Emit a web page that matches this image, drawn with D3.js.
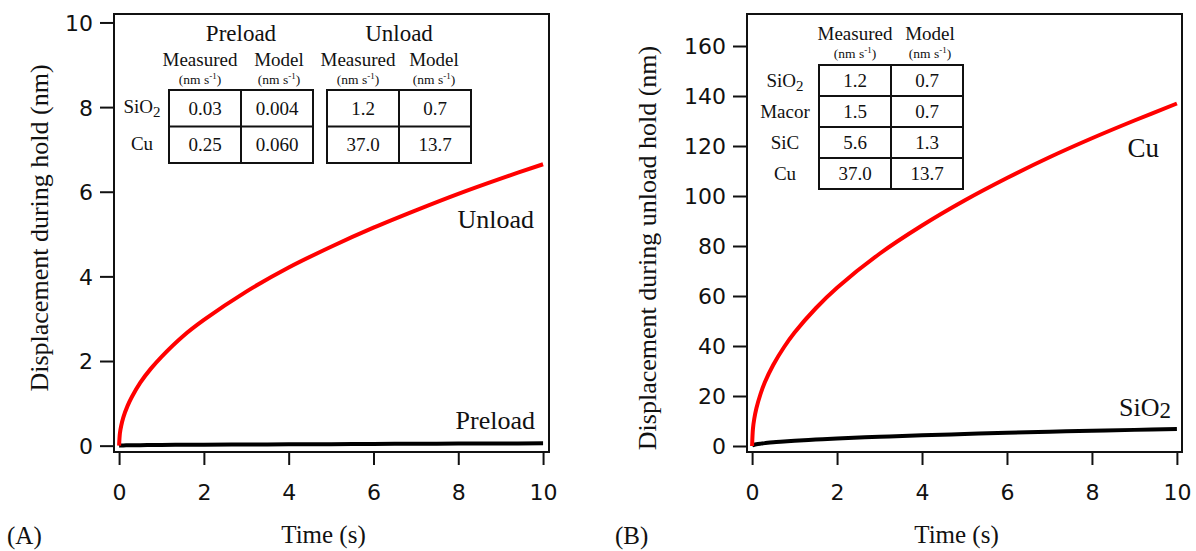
<!DOCTYPE html>
<html>
<head>
<meta charset="utf-8">
<script src="https://cdn.jsdelivr.net/npm/d3@7"></script>
<style>
  html, body { margin: 0; padding: 0; background: #fff; }
</style>
</head>
<body>
<svg id="chart" width="1196" height="551"></svg>
<script>
var SERIF = "'Liberation Serif', 'Times New Roman', Times, serif";
var SANS = "'DejaVu Sans', sans-serif";

// hold time (s)
var timeS    = [0, 0.02, 0.05, 0.1, 0.2, 0.3, 0.5, 0.75, 1, 1.5, 2, 3, 4, 5, 6, 7, 8, 9, 10];
// (A) displacement (nm)
var preloadNm = [0, 0.002, 0.004, 0.006, 0.008, 0.01, 0.012, 0.014, 0.016, 0.02, 0.022, 0.027, 0.032, 0.036, 0.04, 0.044, 0.048, 0.052, 0.056];
var unloadNm  = [0, 0.3, 0.47, 0.67, 0.94, 1.15, 1.49, 1.82, 2.1, 2.58, 2.97, 3.64, 4.21, 4.7, 5.15, 5.56, 5.95, 6.31, 6.65];
// (B) displacement during unload hold (nm)
var sio2Nm = [0, 0.3, 0.5, 0.7, 0.95, 1.15, 1.5, 1.8, 2.1, 2.6, 3.0, 3.7, 4.3, 4.8, 5.3, 5.7, 6.1, 6.45, 6.8];
var cuNm   = [0, 6.9, 10.8, 15, 20.9, 25.5, 32.5, 39.5, 45.4, 55.1, 63.3, 76.9, 88.2, 98.2, 107.2, 115.5, 123.1, 130.2, 137];

var xTicks  = [0, 2, 4, 6, 8, 10];
var yTicksA = [0, 2, 4, 6, 8, 10];
var yTicksB = [0, 20, 40, 60, 80, 100, 120, 140, 160];

// tables (nm s-1)
var tableARows = ["SiO2", "Cu"];
var preloadMeasured = ["0.03", "0.25"];
var preloadModel    = ["0.004", "0.060"];
var unloadMeasured  = ["1.2", "37.0"];
var unloadModel     = ["0.7", "13.7"];

var tableBRows = ["SiO2", "Macor", "SiC", "Cu"];
var tableBMeasured = ["1.2", "1.5", "5.6", "37.0"];
var tableBModel    = ["0.7", "0.7", "1.3", "13.7"];

var svg = d3.select("#chart");

function stext(parent, x, y, size, anchor) {
  return parent.append("text")
    .attr("x", x).attr("y", y)
    .attr("font-family", SERIF)
    .attr("font-size", size)
    .attr("fill", "#111")
    .attr("text-anchor", anchor || "start");
}

// SiO2 -> subscript 2
function chem(sel, name, subSize) {
  if (name === "SiO2") {
    sel.append("tspan").text("SiO");
    sel.append("tspan").attr("font-size", subSize).attr("dy", 4).text("2");
  } else {
    sel.text(name);
  }
}

function panel(o) {
  var g = svg.append("g");
  var x = d3.scaleLinear().domain(o.xDom).range([o.left, o.right]);
  var y = d3.scaleLinear().domain(o.yDom).range([o.bottom, o.top]);

  var xAxis = d3.axisBottom(x).tickValues(xTicks).tickSize(13).tickPadding(19).tickSizeOuter(0);
  var yAxis = d3.axisLeft(y).tickValues(o.yTicks).tickSize(14).tickPadding(7).tickSizeOuter(0);

  var gx = g.append("g").attr("transform", "translate(0," + o.bottom + ")").call(xAxis);
  var gy = g.append("g").attr("transform", "translate(" + o.left + ",0)").call(yAxis);
  [gx, gy].forEach(function(a) {
    a.select(".domain").remove();
    a.selectAll(".tick line").attr("stroke", "#111").attr("stroke-width", 2);
    a.selectAll(".tick text").attr("font-family", SANS).attr("font-size", 22).attr("fill", "#111");
  });
  gy.selectAll(".tick text").attr("dy", "0.36em");

  // lines
  var line = d3.line()
      .x(function(d) { return x(d[0]); })
      .y(function(d) { return y(d[1]); })
      .curve(d3.curveCatmullRom.alpha(0.5));

  o.series.forEach(function(s) {
    g.append("path")
      .datum(timeS.map(function(t, i) { return [t, s.values[i]]; }))
      .attr("fill", "none")
      .attr("stroke", s.color)
      .attr("stroke-width", 4)
      .attr("stroke-linejoin", "round")
      .attr("d", line);
  });

  // frame
  g.append("rect")
    .attr("x", o.left).attr("y", o.top)
    .attr("width", o.right - o.left).attr("height", o.bottom - o.top)
    .attr("fill", "none").attr("stroke", "#111").attr("stroke-width", 2);

  stext(g, (o.left + o.right) / 2 - 8, 543, 25, "middle").text("Time (s)");

  stext(g, 0, 0, 26, "middle")
    .attr("transform", "translate(" + o.yTitleX + "," + o.yTitleY + ") rotate(-90)")
    .text(o.yTitle);

  stext(g, o.tagX, 544, 25).text(o.tag);

  return { g: g, x: x, y: y };
}

// (A)
var pA = panel({
  left: 114, right: 549, top: 14, bottom: 452,
  xDom: [-0.12, 10.14], yDom: [-0.15, 10.2],
  yTicks: yTicksA,
  series: [{ values: preloadNm, color: "#000" }, { values: unloadNm, color: "#ff0000" }],
  yTitle: "Displacement during hold (nm)", yTitleX: 48, yTitleY: 228,
  tag: "(A)", tagX: 7
});

stext(pA.g, 534, 228, 26, "end").text("Unload");
stext(pA.g, 535, 429, 26, "end").text("Preload");

// (B)
var pB = panel({
  left: 747, right: 1182, top: 14, bottom: 452,
  xDom: [-0.12, 10.12], yDom: [-2.4, 172.8],
  yTicks: yTicksB,
  series: [{ values: sio2Nm, color: "#000" }, { values: cuNm, color: "#ff0000" }],
  yTitle: "Displacement during unload hold (nm)", yTitleX: 656, yTitleY: 248,
  tag: "(B)", tagX: 615
});

stext(pB.g, 1159, 157, 27, "end").text("Cu");
var sioLbl = stext(pB.g, 1171, 416, 26, "end");
sioLbl.append("tspan").text("SiO");
sioLbl.append("tspan").attr("font-size", 23).attr("dy", 2).text("2");

// ---- tables ----
function unitLabel(g, cx, y) {
  var t = stext(g, cx, y, 13.5, "middle");
  t.append("tspan").text("(nm s");
  t.append("tspan").attr("font-size", 9).attr("dy", -5).text("-1");
  t.append("tspan").attr("dy", 5).text(")");
}

function grid(g, x0, colW, y0, rowH, cols) {
  var nRows = cols[0].length;
  var tb = g.append("g");
  tb.append("rect")
    .attr("x", x0).attr("y", y0)
    .attr("width", colW * cols.length).attr("height", rowH * nRows)
    .attr("fill", "#fff").attr("stroke", "#111").attr("stroke-width", 2);
  d3.range(1, cols.length).forEach(function(c) {
    tb.append("line").attr("x1", x0 + c * colW).attr("x2", x0 + c * colW)
      .attr("y1", y0).attr("y2", y0 + rowH * nRows)
      .attr("stroke", "#111").attr("stroke-width", 2);
  });
  d3.range(1, nRows).forEach(function(r) {
    tb.append("line").attr("x1", x0).attr("x2", x0 + colW * cols.length)
      .attr("y1", y0 + r * rowH).attr("y2", y0 + r * rowH)
      .attr("stroke", "#111").attr("stroke-width", 2);
  });
  cols.forEach(function(col, c) {
    tb.selectAll(null).data(col).enter().append("text")
      .attr("font-family", SERIF).attr("fill", "#111")
      .attr("x", x0 + c * colW + colW / 2)
      .attr("y", function(d, i) { return y0 + i * rowH + rowH / 2 + 6.5; })
      .attr("text-anchor", "middle").attr("font-size", 19)
      .text(function(d) { return d; });
  });
}

// table A
var tA = pA.g.append("g");
stext(tA, 241, 41, 23, "middle").text("Preload");
stext(tA, 399, 41, 23, "middle").text("Unload");
[[200, "Measured"], [279, "Model"], [358, "Measured"], [434, "Model"]].forEach(function(h) {
  stext(tA, h[0], 66, 19, "middle").text(h[1]);
  unitLabel(tA, h[0], 84);
});
grid(tA, 169, 72, 90, 36.5, [preloadMeasured, preloadModel]);
grid(tA, 327, 72, 90, 36.5, [unloadMeasured, unloadModel]);
tableARows.forEach(function(r, i) {
  var t = stext(tA, 142, 90 + i * 36.5 + 36.5 / 2 + 5, 19, "middle");
  chem(t, r, 15);
});

// table B
var tB = pB.g.append("g");
[[855, "Measured"], [930, "Model"]].forEach(function(h) {
  stext(tB, h[0], 40, 19, "middle").text(h[1]);
  unitLabel(tB, h[0], 58);
});
grid(tB, 819, 72, 65, 31, [tableBMeasured, tableBModel]);
tableBRows.forEach(function(r, i) {
  var t = stext(tB, 785, 65 + i * 31 + 31 / 2 + 6.5, 19, "middle");
  chem(t, r, 15);
});
</script>
</body>
</html>
